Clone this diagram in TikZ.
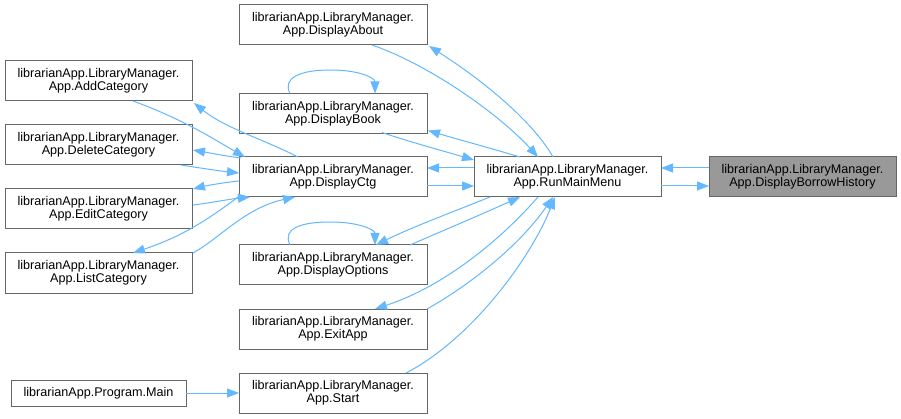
\documentclass[tikz,border=0pt]{standalone}
\usepackage{fontspec}
\setmainfont{Liberation Sans}
\usetikzlibrary{arrows.meta}
\definecolor{edgeblue}{HTML}{63B8FF}
\definecolor{boxgray}{HTML}{666666}
\definecolor{histfill}{HTML}{999999}
\begin{document}
\begin{tikzpicture}[x=1pt,y=-1pt,
  fn/.style={draw=boxgray, fill=white, line width=1pt, rectangle, inner sep=0pt, outer sep=0pt,
    minimum width=187pt, minimum height=40pt, align=center,
    font=\fontsize{12.6}{13.4}\selectfont},
  fnw/.style={fn, minimum width=188pt},
  cur/.style={fn, fill=histfill},
  call/.style={draw=edgeblue, line width=1pt, -{Triangle[length=12pt,width=9pt]}, edgeblue}]
\fill[white] (0,0) rectangle (901,419);
\useasboundingbox (0,0) rectangle (901,419);

% nodes
\node[fnw] (About) at (333,25) {librarianApp.LibraryManager.\\App.DisplayAbout};
\node[fn] (AddCat) at (98.5,81) {librarianApp.LibraryManager.\\App.AddCategory};
\node[fnw] (Book) at (333,113.5) {librarianApp.LibraryManager.\\App.DisplayBook};
\node[fn] (DelCat) at (98.5,145) {librarianApp.LibraryManager.\\App.DeleteCategory};
\node[fnw] (Ctg) at (333,177) {librarianApp.LibraryManager.\\App.DisplayCtg};
\node[fn] (Edit) at (98.5,209) {librarianApp.LibraryManager.\\App.EditCategory};
\node[fn] (List) at (98.5,273) {librarianApp.LibraryManager.\\App.ListCategory};
\node[fnw] (Options) at (333,265) {librarianApp.LibraryManager.\\App.DisplayOptions};
\node[fnw] (Exit) at (333,329) {librarianApp.LibraryManager.\\App.ExitApp};
\node[fn, minimum width=175pt, minimum height=26pt] (Main) at (98.5,393) {librarianApp.Program.Main};
\node[fnw] (Start) at (333,393) {librarianApp.LibraryManager.\\App.Start};
\node[fn] (Run) at (567.5,177) {librarianApp.LibraryManager.\\App.RunMainMenu};
\node[cur] (Hist) at (802.5,177) {librarianApp.LibraryManager.\\App.DisplayBorrowHistory};

% edges around RunMainMenu
\draw[call] ([shift={(0,11)}]Hist.north west) -- ([shift={(187,11)}]Run.north west);
\draw[call] ([shift={(187,29)}]Run.north west) -- ([shift={(0,29)}]Hist.north west);
\draw[call] ([shift={(0,11)}]Run.north west) -- ([shift={(188,11)}]Ctg.north west);
\draw[call] ([shift={(188,29)}]Ctg.north west) -- ([shift={(0,29)}]Run.north west);

\draw[call] ([shift={(79,0)}]Run.north west) .. controls (535,125) and (490,85) .. ([shift={(190,41)}]About.north west);
\draw[call] ([shift={(133,40)}]About.north west) .. controls (430,65) and (500,115) .. ([shift={(64,0)}]Run.north west);
\draw[call] ([shift={(46,0)}]Run.north west) .. controls (490,148) and (460,140) .. ([shift={(189,37)}]Book.north west);
\draw[call] ([shift={(143,39)}]Book.north west) .. controls (410,142) and (440,150) .. ([shift={(0,3)}]Run.north west);
\draw[call] ([shift={(51,0)}]Book.north west) .. controls (282,78) and (300,70) .. (330,70) .. controls (360,70) and (375,78) .. ([shift={(136,0)}]Book.north west);

\draw[call] ([shift={(16,40)}]Run.north west) .. controls (450,213) and (410,228) .. ([shift={(137,0)}]Options.north west);
\draw[call] ([shift={(171,0)}]Options.north west) .. controls (440,232) and (480,215) .. ([shift={(46,40)}]Run.north west);
\draw[call] ([shift={(51,0)}]Options.north west) .. controls (282,229) and (300,222) .. (330,222) .. controls (360,222) and (375,230) .. ([shift={(136,0)}]Options.north west);
\draw[call] ([shift={(64,40)}]Run.north west) .. controls (505,235) and (448,285) .. ([shift={(136,0)}]Exit.north west);
\draw[call] ([shift={(188,0)}]Exit.north west) .. controls (470,285) and (520,245) .. ([shift={(79,40)}]Run.north west);
\draw[call] ([shift={(167,0)}]Start.north west) .. controls (470,340) and (530,260) .. ([shift={(81,40)}]Run.north west);

% edges around DisplayCtg
\draw[call] ([shift={(59,0)}]Ctg.north west) .. controls (265,140) and (225,128) .. ([shift={(189,42)}]AddCat.north west);
\draw[call] ([shift={(128,40)}]AddCat.north west) .. controls (185,120) and (215,140) .. ([shift={(6,0)}]Ctg.north west);
\draw[call] ([shift={(2,1)}]Ctg.north west) .. controls (225,156) and (210,153) .. ([shift={(188,25)}]DelCat.north west);
\draw[call] ([shift={(176,40)}]DelCat.north west) .. controls (200,168) and (220,171) .. ([shift={(0,16)}]Ctg.north west);
\draw[call] ([shift={(0,24)}]Ctg.north west) .. controls (220,183) and (205,186) .. ([shift={(188,0)}]Edit.north west);
\draw[call] ([shift={(188,16)}]Edit.north west) .. controls (210,203) and (230,199) .. ([shift={(11,40)}]Ctg.north west);
\draw[call] ([shift={(-1,40)}]Ctg.north west) .. controls (205,222) and (180,237) .. ([shift={(128,0)}]List.north west);
\draw[call] ([shift={(188,0)}]List.north west) .. controls (220,238) and (245,208) .. ([shift={(56,40)}]Ctg.north west);

\draw[call] (Main.east) -- (Start.west);
\end{tikzpicture}
\end{document}
